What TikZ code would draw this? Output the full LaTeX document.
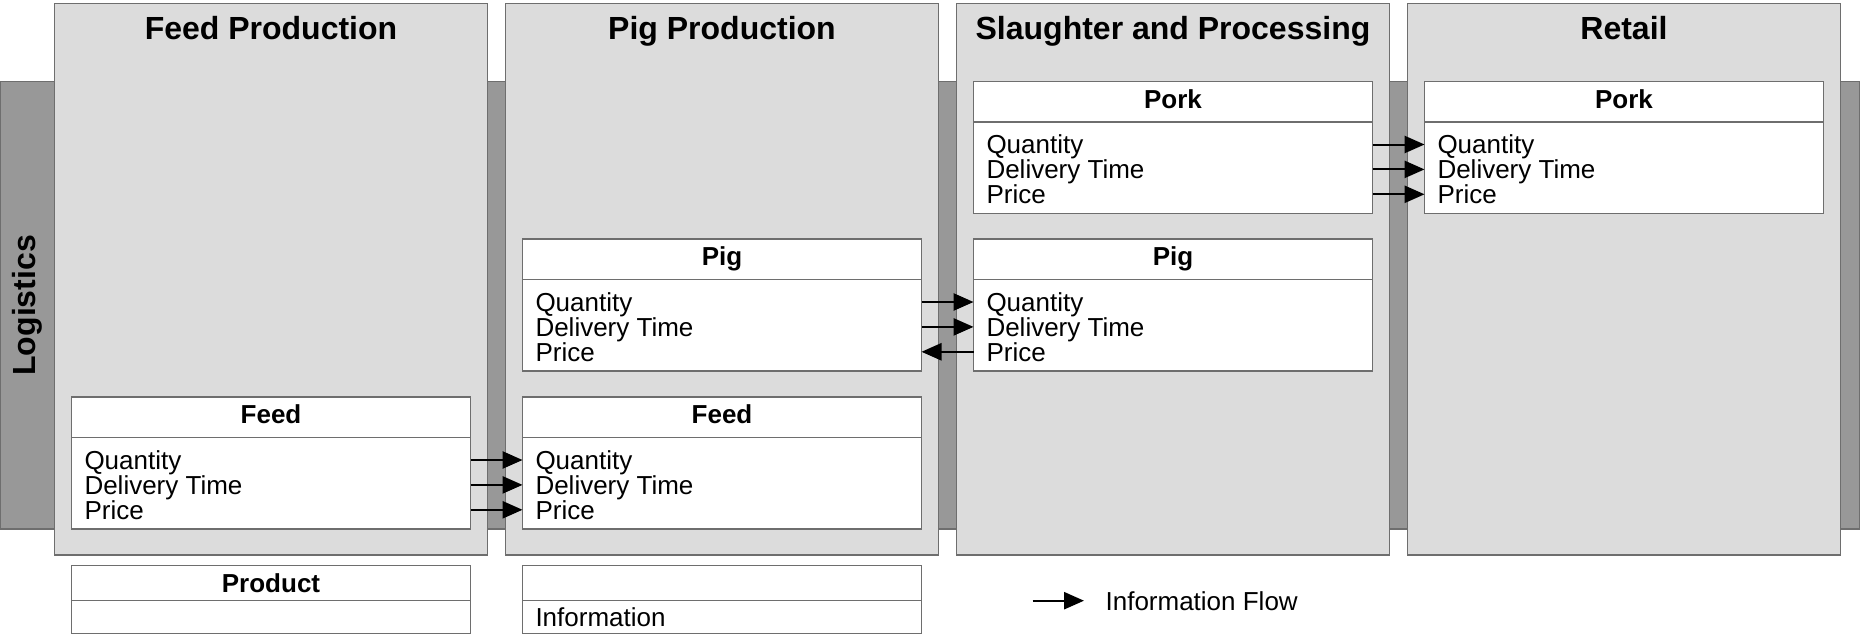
\documentclass[tikz,border=0pt]{standalone}
\usepackage{fontspec}
\setmainfont{Liberation Sans}
\usetikzlibrary{arrows.meta,calc}

\definecolor{panelfill}{HTML}{DCDCDC}
\definecolor{bandfill}{HTML}{989898}
\definecolor{edgegray}{HTML}{6E6E6E}

\tikzset{
  every node/.style={outer sep=0pt},
  edge/.style={draw=edgegray, line width=0.6pt},
  band/.style={edge, fill=bandfill, inner sep=0pt,
    anchor=north west, minimum width=930pt, minimum height=223.6pt},
  panel/.style={edge, fill=panelfill, inner sep=0pt,
    anchor=north west, minimum width=216.5pt, minimum height=275.7pt},
  title/.style={font=\fontsize{16}{16}\selectfont\bfseries, inner sep=0pt,
    text height=11.5pt, text depth=3.4pt},
  boxhead/.style={edge, fill=white, inner sep=0pt,
    anchor=north west, minimum width=199.5pt, minimum height=20.25pt,
    font=\fontsize{13}{13}\selectfont\bfseries, text height=9.4pt, text depth=2.8pt},
  boxbody/.style={fill=white, inner sep=0pt,
    anchor=north west, minimum width=199.5pt, minimum height=45.75pt},
  item/.style={font=\fontsize{13}{13}\selectfont, inner sep=0pt, anchor=west,
    text height=9.3pt, text depth=0pt},
  flow/.style={-{Triangle[length=10pt,width=8.6pt]}, line width=1pt, black},
}

% outline of a heading + body pair, divider included
\newcommand\boxoutline[2]{%
  \draw[edge] (#1.south east) -- (#1.south west) |- (#2.south east) -- cycle;
}

% attribute box: name, left x, top y, heading
\newcommand\attrbox[4]{%
  \node[boxhead] (#1h) at (#2,#3) {#4};
  \node[boxbody] (#1b) at (#1h.south west) {};
  \boxoutline{#1h}{#1b}
  \node[item] (#1q) at ($(#1b.north west)+(13,22.5)$) {Quantity};
  \node[item] (#1d) at ($(#1b.north west)+(13,47.4)$) {Delivery Time};
  \node[item] (#1p) at ($(#1b.north west)+(13,72.3)$) {Price};
}

\begin{document}
\begin{tikzpicture}[x=0.5pt,y=-0.5pt]
  \useasboundingbox (0,0) rectangle (1860,637);

  % logistics band behind the stages
  \node[band] (logi) at (0,81.8) {};
  \node[title, rotate=90] (logiT) at (27,305.4) {Logistics};

  % supply chain stages
  \node[panel] (pFeed) at (54.5,3.6) {};
  \node[panel] (pPig)  at (505.5,3.6) {};
  \node[panel] (pSlau) at (956.5,3.6) {};
  \node[panel] (pRet)  at (1407.5,3.6) {};
  \node[title] (tFeed) at ($(pFeed.north)+(0,27.5)$) {Feed Production};
  \node[title] (tPig)  at ($(pPig.north)+(0,27.5)$) {Pig Production};
  \node[title] (tSlau) at ($(pSlau.north)+(0,27.5)$) {Slaughter and Processing};
  \node[title] (tRet)  at ($(pRet.north)+(0,27.5)$) {Retail};

  % product attribute boxes
  \attrbox{fpFeed}{71.5}{397}{Feed}
  \attrbox{ppPig}{522.5}{239}{Pig}
  \attrbox{ppFeed}{522.5}{397}{Feed}
  \attrbox{spPork}{973.5}{81.5}{Pork}
  \attrbox{spPig}{973.5}{239}{Pig}
  \attrbox{rtPork}{1424.5}{81.5}{Pork}

  % information flows
  \foreach \k in {q,d,p} {
    \draw[flow] (fpFeed\k.west -| fpFeedb.east) -- (fpFeed\k.west -| ppFeedb.west);
    \draw[flow] (spPork\k.west -| spPorkb.east) -- (spPork\k.west -| rtPorkb.west);
  }
  \draw[flow] (ppPigq.west -| ppPigb.east) -- (ppPigq.west -| spPigb.west);
  \draw[flow] (ppPigd.west -| ppPigb.east) -- (ppPigd.west -| spPigb.west);
  \draw[flow] (spPigp.west -| spPigb.west) -- (spPigp.west -| ppPigb.east);

  % legend
  \node[boxhead, minimum height=17.2pt, text height=9.3pt, text depth=0pt] (legP) at (71.5,565.8) {Product};
  \node[boxbody, minimum height=16.6pt] (legPb) at (legP.south west) {};
  \boxoutline{legP}{legPb}
  \node[boxhead, minimum height=17.2pt] (legI) at (522.5,565.8) {};
  \node[boxbody, minimum height=16.6pt] (legIb) at (legI.south west) {};
  \boxoutline{legI}{legIb}
  \node[item] (legIt) at ($(legIb.west)+(13,0)$) {Information};
  \coordinate (flowA) at (1032.5,600.7);
  \coordinate (flowB) at (1084,600.7);
  \draw[flow] (flowA) -- (flowB);
  \node[item] (flowT) at (1105.6,600.7) {Information Flow};
\end{tikzpicture}
\end{document}
